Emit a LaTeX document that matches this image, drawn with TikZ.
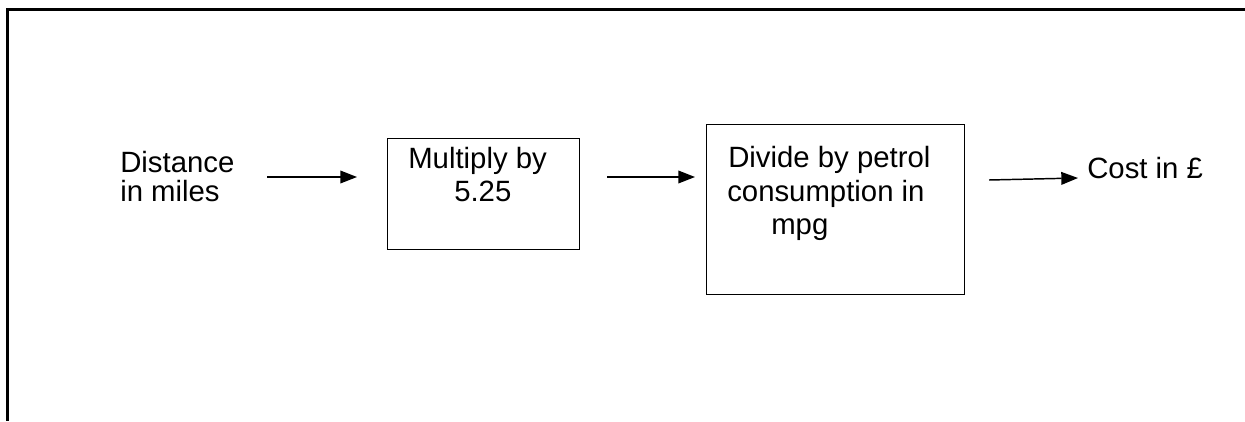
\documentclass[tikz,border=0pt]{standalone}
\usepackage{fontspec}
\setmainfont{Liberation Sans}
\usetikzlibrary{arrows.meta}
\begin{document}
\begin{tikzpicture}[x=0.75pt,y=-0.75pt,
  frameline/.style={line width=2.2pt},
  stagebox/.style={draw,line width=1.1pt,anchor=north west,inner sep=0pt},
  txt/.style={anchor=base west,inner sep=0pt,font=\fontsize{22}{25.5}\selectfont},
  flow/.style={line width=1.1pt,-{Triangle[length=12.5pt,width=9.5pt]}}]
\useasboundingbox (0,0) rectangle (1245,421);
% open frame: top and left edges only
\coordinate (ftl) at (7.7,9.7);
\coordinate (ftr) at (1245,9.7);
\coordinate (fbl) at (7.7,421);
\draw[frameline] (ftr) -- (ftl) -- (fbl);
% stage boxes
\node[stagebox,minimum width=144pt,minimum height=83.25pt] (mult) at (387,138) {};
\node[stagebox,minimum width=193.5pt,minimum height=127.5pt] (divd) at (706,124) {};
% labels
\node[txt] (dist1) at (120,172) {Distance};
\node[txt] (dist2) at (120,201) {in miles};
\node[txt] (mult1) at (408,168) {Multiply by};
\node[txt] (mult2) at (454,201) {5.25};
\node[txt] (div1) at (728,167) {Divide by petrol};
\node[txt] (div2) at (727,201) {consumption in};
\node[txt] (div3) at (771,234) {mpg};
\node[txt] (cost) at (1087,178) {Cost in £};
% arrows
\coordinate (a1s) at (267,177); \coordinate (a1e) at (357,177);
\coordinate (a2s) at (607,177); \coordinate (a2e) at (695,177);
\coordinate (a3s) at (989,180); \coordinate (a3e) at (1078,178);
\draw[flow] (a1s) -- (a1e);
\draw[flow] (a2s) -- (a2e);
\draw[flow] (a3s) -- (a3e);
\end{tikzpicture}
\end{document}
